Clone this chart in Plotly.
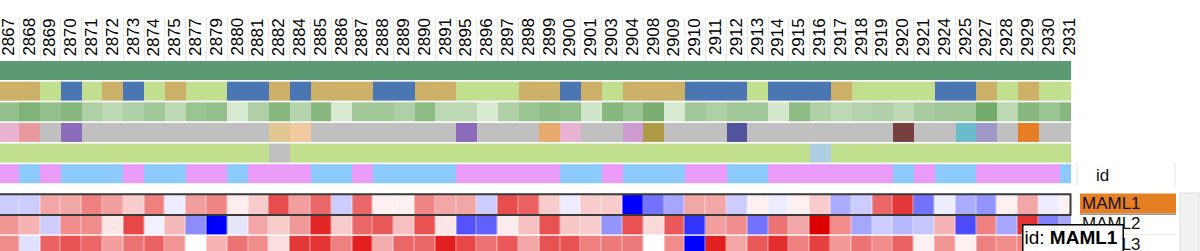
import plotly.graph_objects as go

# ---------------- data ----------------
samples = ["2867", "2868", "2869", "2870", "2871", "2872", "2873", "2874", "2875", "2877",
           "2879", "2880", "2881", "2882", "2884", "2885", "2886", "2887", "2888", "2889",
           "2890", "2891", "2895", "2896", "2897", "2898", "2899", "2900", "2901", "2903",
           "2904", "2908", "2909", "2910", "2911", "2912", "2913", "2914", "2915", "2916",
           "2917", "2918", "2919", "2920", "2921", "2924", "2925", "2927", "2928", "2929",
           "2930", "2931"]

# track 1: single category
track1 = list("AAAAAAAAAAAAAAAAAAAAAAAAAAAAAAAAAAAAAAAAAAAAAAAAAAAA")
track1_colors = {"A": "#5b9a75"}

# track 2: three categories (T=tan, G=light green, B=blue)
track2 = list("TTGBGTBGTGGBBTBTTTBBTTGGGTTBTGTTTBBBGBBBTGGGGBBTGTGG")
track2_colors = {"T": "#ccb068", "G": "#c1df8f", "B": "#4a77b3"}

# track 3: continuous green shade
track3 = [0.60, 0.75, 0.60, 0.70, 0.40, 0.30, 0.40, 0.50, 0.30, 0.55,
          0.60, 0.10, 0.40, 0.70, 0.35, 0.70, 0.10, 0.50, 0.50, 0.40,
          0.65, 0.30, 0.30, 0.10, 0.40, 0.55, 0.65, 0.60, 0.15, 0.70,
          0.55, 0.80, 0.10, 0.50, 0.40, 0.50, 0.50, 0.12, 0.65, 0.40,
          0.30, 0.35, 0.40, 0.30, 0.45, 0.50, 0.50, 0.85, 0.30, 0.70,
          0.55, 0.70]

# track 4: many categories
track4 = ["pink", "salmon", "gray", "purple",
          "gray", "gray", "gray", "gray", "gray", "gray", "gray", "gray", "gray",
          "tan", "peach",
          "gray", "gray", "gray", "gray", "gray", "gray", "gray",
          "purple",
          "gray", "gray", "gray",
          "lightorange", "pink",
          "gray", "gray",
          "lilac", "olive",
          "gray", "gray", "gray",
          "navy",
          "gray", "gray", "gray", "gray", "gray", "gray", "gray",
          "brown",
          "gray", "gray",
          "teal", "lavender",
          "gray",
          "orange",
          "gray", "gray"]
track4_colors = {"pink": "#e8b3d0", "salmon": "#e8999b", "gray": "#c0c0c0",
                 "purple": "#8c6bba", "tan": "#dfc78f", "peach": "#f1cb9f",
                 "lightorange": "#e9aa6d", "lilac": "#cf9bd3", "olive": "#b09b45",
                 "navy": "#53529c", "brown": "#773f3e", "teal": "#6bbccb",
                 "lavender": "#9f97c6", "orange": "#e57e24"}

# track 5
track5 = list("GGGGGGGGGGGGGXGGGGGGGGGGGGGGGGGGGGGGGGGLGGGGGGGGGGGG")
track5_colors = {"G": "#c1df8f", "X": "#c0c0c0", "L": "#aecee4"}

# track 6 (P=violet, B=light blue)
track6 = list("PBPBBBPBBPPBPPPBBPBBBBPPPPPBBPBBBPPBBPPPPPPBPBBPPPPB")
track6_colors = {"P": "#e99bf7", "B": "#8ccafb"}

gene_ids = ["MAML1", "MAML2", "MAML3"]
maml1 = [-0.20, -0.20, 0.35, 0.35, 0.50, 0.38, 0.20, 0.50, -0.07, 0.38,
         0.48, 0.07, 0.20, 0.70, 0.38, 0.60, -0.20, 0.60, 0.06, 0.06,
         0.48, 0.35, 0.35, -0.20, 0.70, 0.62, 0.20, -0.07, 0.20, 0.20,
         -1.00, -0.55, -0.35, 0.35, 0.35, -0.20, 0.06, -0.07, 0.06, 0.20,
         -0.33, -0.20, 0.60, 0.78, -0.55, -0.07, -0.33, -0.42, 0.06, 0.35,
         -0.07, 0.06]
maml2 = [0.42, 0.30, -0.20, 0.45, 0.45, 0.10, 0.72, -0.06, 0.28, -0.45,
         -1.00, -0.10, 0.35, 0.20, 0.40, 0.85, 0.20, 0.60, 0.65, 0.25,
         0.68, 0.10, -0.68, -0.62, 0.08, 0.25, 0.68, 0.22, 0.20, -0.42,
         0.68, 0.15, 0.65, -0.80, 0.38, 0.45, -0.55, 0.55, 0.35, 1.00,
         0.45, -0.35, -0.20, -0.28, -0.22, 0.30, -0.70, 0.50, -0.35, 0.80,
         -0.50, -0.35]
maml3 = [0.45, -0.12, 0.62, 0.68, 0.60, 0.38, 0.55, 0.62, 0.42, 0.00,
         0.30, 0.55, 0.45, 0.12, 0.78, 0.80, 0.50, 0.88, 0.32, 0.60,
         0.60, 0.88, 0.72, 0.55, 0.65, 0.35, 0.68, 0.68, 0.50, 0.52,
         0.52, 0.00, 0.45, -1.00, 0.88, 0.35, 0.65, 0.82, 0.50, 0.75,
         0.40, 0.55, 0.45, 0.62, 0.06, 0.42, 0.06, 0.50, 0.45, 0.50,
         0.30, 0.30]
expression = [maml1, maml2, maml3]
selected_id = "MAML1"

# ---------------- layout constants (pixels) ----------------
W, H = 1200, 251
PLOT_RIGHT = 1071
TRACK_TOP = 61
LABEL_TOP = 17
LABEL_CENTER = 37.0
COL_W = 20.8
COL0_LEFT = -1.6
TRACK_PITCH, TRACK_H = 20.65, 19.0
EXPR_TOP, EXPR_PITCH, EXPR_H = 134.0, 20.4, 19.4
FONT = "Liberation Sans, Arial, Helvetica, sans-serif"

x_range = [-0.5 - COL0_LEFT / COL_W, -0.5 + (PLOT_RIGHT - COL0_LEFT) / COL_W]


def px_x(p):
    return p / W


def px_y(p):
    return 1 - p / H


def discrete_scale(colors):
    n = len(colors)
    if n == 1:
        return [[0, colors[0]], [1, colors[0]]]
    cs = []
    for i, c in enumerate(colors):
        cs.append([i / n, c])
        cs.append([(i + 1) / n, c])
    return cs


fig = go.Figure()

tracks = [(track1, track1_colors), (track2, track2_colors), None,
          (track4, track4_colors), (track5, track5_colors), (track6, track6_colors)]

for k in range(6):
    top = TRACK_PITCH * k
    yedges = [top, top + TRACK_H]
    if k == 2:
        fig.add_trace(go.Heatmap(
            x=samples, y=yedges, z=[track3], zmin=0, zmax=1,
            colorscale=[[0, "#e4f1dd"], [1, "#5f9f56"]],
            showscale=False, hoverinfo="skip"))
        continue
    vals, cmap = tracks[k]
    cats = list(cmap.keys())
    codes = [cats.index(v) for v in vals]
    fig.add_trace(go.Heatmap(
        x=samples, y=yedges, z=[codes], zmin=-0.5, zmax=len(cats) - 0.5,
        colorscale=discrete_scale([cmap[c] for c in cats]),
        showscale=False, hoverinfo="skip"))

for j, (gid, row) in enumerate(zip(gene_ids, expression)):
    top = EXPR_TOP + EXPR_PITCH * j
    fig.add_trace(go.Heatmap(
        x=samples, y=[top, top + EXPR_H], z=[row], zmin=-1, zmax=1,
        colorscale=[[0, "#0000ff"], [0.5, "#ffffff"], [1, "#dd0000"]],
        showscale=False, hoverinfo="skip", xgap=0.5, name=gid))

# invisible trace for label-grid subplot
fig.add_trace(go.Scatter(x=[0], y=[0], xaxis="x2", yaxis="y2", mode="markers",
                         marker=dict(opacity=0), hoverinfo="skip", showlegend=False))

shapes = []
sel = gene_ids.index(selected_id)
sel_top = EXPR_TOP + EXPR_PITCH * sel
shapes.append(dict(type="rect", xref="paper", yref="y",
                   x0=px_x(-3), x1=px_x(PLOT_RIGHT - 0.5),
                   y0=sel_top - 0.8, y1=sel_top + EXPR_H + 0.6,
                   line=dict(color="#3a3a3a", width=2), fillcolor="rgba(0,0,0,0)"))
# right panel header borders
for xp in (1077, 1175):
    shapes.append(dict(type="line", xref="paper", yref="paper",
                       x0=px_x(xp), x1=px_x(xp), y0=px_y(163), y1=px_y(186),
                       line=dict(color="#e2e2e2", width=1)))
# selected row background
shapes.append(dict(type="rect", xref="paper", yref="paper",
                   x0=px_x(1080), x1=px_x(1176), y0=px_y(193.5), y1=px_y(213.5),
                   fillcolor="#e57f22", line=dict(width=0)))
shapes.append(dict(type="line", xref="paper", yref="paper",
                   x0=px_x(1080), x1=px_x(1176), y0=px_y(214.2), y1=px_y(214.2),
                   line=dict(color="#9a9a9a", width=1.5)))
shapes.append(dict(type="line", xref="paper", yref="paper",
                   x0=px_x(1080), x1=px_x(1176), y0=px_y(234.5), y1=px_y(234.5),
                   line=dict(color="#e8e8e8", width=1)))
# scrollbar
shapes.append(dict(type="rect", xref="paper", yref="paper",
                   x0=px_x(1180), x1=px_x(1199), y0=px_y(193), y1=px_y(262),
                   fillcolor="#f1f1f1", line=dict(color="#dedede", width=1)))

annotations = []
# column labels (rotated, reading bottom-to-top)
for i, s in enumerate(samples):
    annotations.append(dict(text=s, xref="x", yref="paper", x=i, y=px_y(LABEL_CENTER),
                            xanchor="center", yanchor="middle", textangle=-90,
                            showarrow=False, borderpad=0,
                            font=dict(family=FONT, size=17, color="black")))

annotations.append(dict(text="id", xref="paper", yref="paper", x=px_x(1094), y=px_y(175),
                        xanchor="left", yanchor="middle", showarrow=False,
                        font=dict(family=FONT, size=17, color="#111")))
for j, gid in enumerate(gene_ids):
    annotations.append(dict(text=gid, xref="paper", yref="paper",
                            x=px_x(1080), y=px_y(203.5 + 20.4 * j),
                            xanchor="left", yanchor="middle", showarrow=False,
                            font=dict(family=FONT, size=17, color="#111")))
# tooltip
annotations.append(dict(text="id: <b>%s</b>" % selected_id, xref="paper", yref="paper",
                        x=px_x(1021.5), y=px_y(224), xanchor="left", yanchor="top",
                        showarrow=False, align="left", valign="top",
                        bgcolor="white", bordercolor="black", borderwidth=1.5,
                        borderpad=1, width=97, height=40,
                        font=dict(family=FONT, size=19, color="black")))

fig.update_layout(
    width=W, height=H,
    margin=dict(l=0, r=0, t=0, b=0, pad=0),
    paper_bgcolor="white", plot_bgcolor="white",
    showlegend=False,
    font=dict(family=FONT, color="black"),
    xaxis=dict(type="category", categoryorder="array", categoryarray=samples,
               range=x_range, domain=[0, PLOT_RIGHT / W], side="top",
               showticklabels=False,
               showgrid=False, zeroline=False, showline=False, ticks="",
               automargin=False, fixedrange=True),
    yaxis=dict(range=[H - TRACK_TOP, 0], domain=[0, (H - TRACK_TOP) / H],
               showgrid=False, zeroline=False, showline=False,
               showticklabels=False, ticks="", automargin=False, fixedrange=True),
    xaxis2=dict(range=x_range, domain=[0, PLOT_RIGHT / W], anchor="y2",
                tickmode="array", tickvals=[i - 0.5 for i in range(len(samples) + 1)],
                showticklabels=False, ticks="", showgrid=True, gridcolor="#e9e9e9",
                gridwidth=1, zeroline=False, showline=False, automargin=False,
                fixedrange=True),
    yaxis2=dict(range=[0, 1], domain=[(H - TRACK_TOP) / H, (H - LABEL_TOP) / H],
                anchor="x2", showgrid=False, zeroline=False, showline=False,
                showticklabels=False, ticks="", automargin=False, fixedrange=True),
    shapes=shapes,
    annotations=annotations,
)

fig.write_html("out.html", config={"displayModeBar": False})
